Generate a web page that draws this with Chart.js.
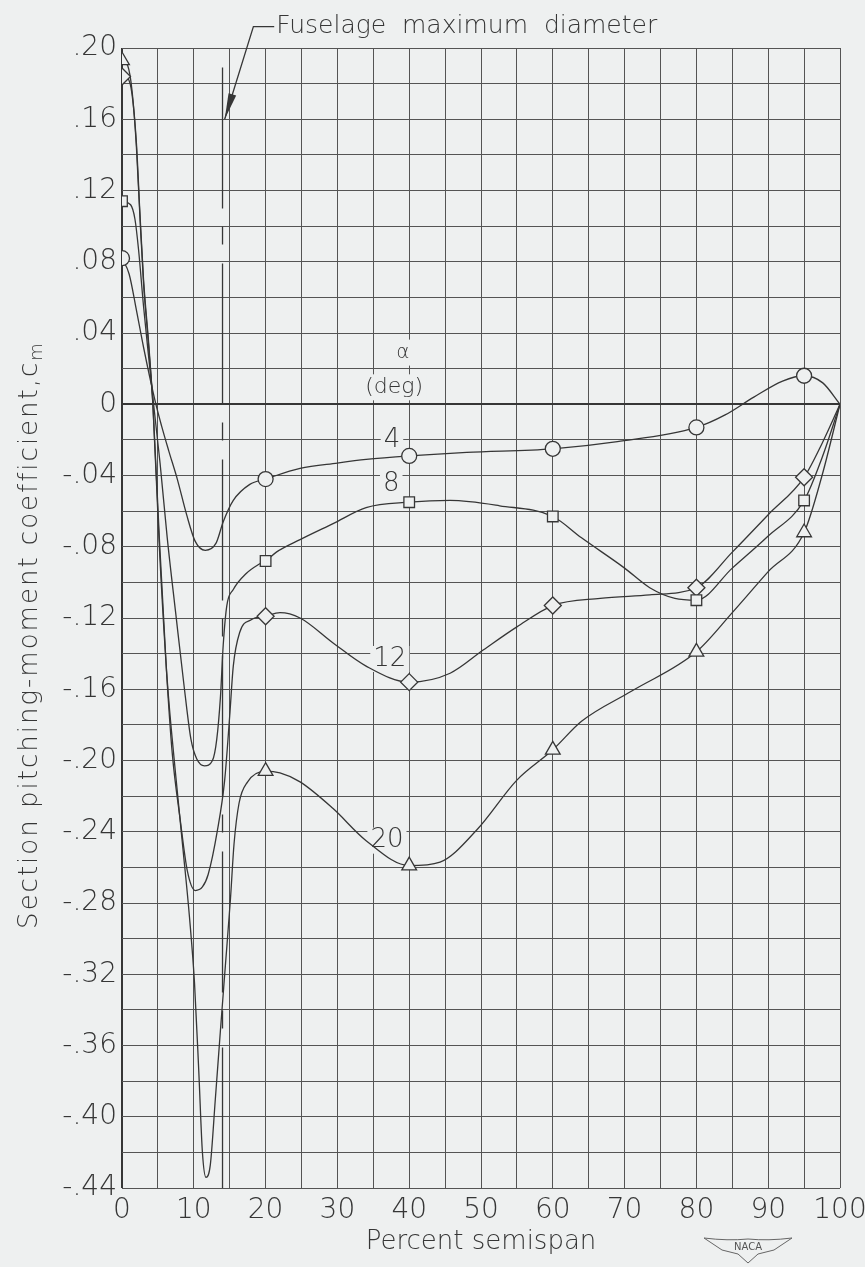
<!DOCTYPE html>
<html>
<head>
<meta charset="utf-8">
<script src="https://cdn.jsdelivr.net/npm/chart.js@4.4.1/dist/chart.umd.min.js"></script>
<style>
  html, body { margin: 0; padding: 0; background: #eef0f0; }
</style>
</head>
<body>
<canvas id="cm" width="865" height="1267"></canvas>
<script>
// Spanwise stations where the section moments were measured (percent semispan)
const stations = [0, 20, 40, 60, 80, 95];

// Section pitching-moment coefficient at each station, one array per angle of attack
const cmAlpha4  = [0.082, -0.042, -0.029, -0.025, -0.013, 0.016];
const cmAlpha8  = [0.114, -0.088, -0.055, -0.063, -0.110, -0.054];
const cmAlpha12 = [0.184, -0.119, -0.156, -0.113, -0.103, -0.041];
const cmAlpha20 = [0.193, -0.206, -0.259, -0.194, -0.139, -0.072];

// Faired curves through the stations, [percent semispan, cm]
const curveAlpha4 = [
  [0, 0.082], [1, 0.073], [2, 0.053], [3, 0.032], [4.6, 0.002], [5.5, -0.012],
  [6.5, -0.026], [7.7, -0.042], [9, -0.062], [10.2, -0.077], [11.6, -0.082],
  [13.1, -0.078], [14.1, -0.066], [15.5, -0.054], [17.8, -0.045], [20, -0.042],
  [24.8, -0.036], [30, -0.033], [34, -0.031], [40, -0.029], [48, -0.027],
  [60, -0.025], [69, -0.021], [80, -0.013], [84, -0.006], [88, 0.004],
  [92, 0.013], [95, 0.016], [97.6, 0.012], [100, 0]
];
const curveAlpha8 = [
  [0, 0.114], [1.2, 0.112], [1.8, 0.104], [2.3, 0.087], [3, 0.055], [3.7, 0.027],
  [4.4, 0], [5.3, -0.033], [6.3, -0.075], [7.5, -0.118], [8.7, -0.16],
  [9.6, -0.188], [10.4, -0.199], [11.5, -0.203], [12.6, -0.2], [13.2, -0.188],
  [13.7, -0.165], [14.1, -0.135], [14.6, -0.113], [15.5, -0.104], [17.3, -0.095],
  [19, -0.09], [20, -0.088], [21.5, -0.083], [24.8, -0.076], [29.4, -0.067],
  [34, -0.058], [40, -0.055], [45.7, -0.054], [52.6, -0.057], [60, -0.063],
  [64, -0.075], [70, -0.092], [73.5, -0.103], [77, -0.109], [80, -0.11],
  [85, -0.092], [90, -0.074], [95, -0.054], [97.5, -0.03], [100, 0]
];
const curveAlpha12 = [
  [0, 0.184], [0.8, 0.183], [1.4, 0.174], [2, 0.147], [2.5, 0.107], [3, 0.07],
  [3.7, 0.035], [4.3, 0], [5.2, -0.075], [6.2, -0.15], [7, -0.196], [8.1, -0.233],
  [9.1, -0.262], [10.2, -0.273], [11.2, -0.271], [12, -0.264], [13.3, -0.239],
  [14.3, -0.211], [15, -0.175], [15.5, -0.147], [16.4, -0.128], [18, -0.121],
  [20, -0.119], [22, -0.117], [24.8, -0.12], [29.4, -0.134], [34, -0.147],
  [40, -0.156], [45.7, -0.151], [50.3, -0.138], [55, -0.125], [60, -0.113],
  [66.6, -0.109], [73.5, -0.107], [80, -0.103], [85, -0.083], [90, -0.062],
  [95, -0.041], [97.5, -0.022], [100, 0]
];
const curveAlpha20 = [
  [0, 0.193], [0.8, 0.19], [1.4, 0.176], [2, 0.145], [2.5, 0.105], [3, 0.068],
  [3.7, 0.033], [4.3, 0], [5.2, -0.08], [6.3, -0.155], [7.4, -0.205], [8.5, -0.25],
  [9.4, -0.288], [10.1, -0.325], [10.7, -0.375], [11.2, -0.42], [11.7, -0.434],
  [12.3, -0.427], [13, -0.39], [13.7, -0.352], [14.4, -0.315], [15.1, -0.278],
  [15.6, -0.247], [16.3, -0.224], [17.5, -0.212], [20, -0.206], [22, -0.207],
  [24.8, -0.212], [29.4, -0.227], [34, -0.245], [40, -0.259], [44.3, -0.257],
  [49.4, -0.239], [55, -0.211], [60, -0.194], [64, -0.178], [71, -0.161],
  [80, -0.139], [85, -0.117], [90, -0.094], [95, -0.072], [97.5, -0.04], [100, 0]
];

// Fuselage maximum diameter station (percent semispan)
const fuselageStation = 14;

// Curve labels (angle of attack, deg) and where they sit in data units
const alphaLabels = ['4', '8', '12', '20'];
const alphaLabelX = [37.6, 37.5, 37.3, 36.9];
const alphaLabelY = [-0.020, -0.045, -0.143, -0.245];

// Axis tick labels
const xTickValues = [0, 10, 20, 30, 40, 50, 60, 70, 80, 90, 100];
const yTickValues = [0.20, 0.16, 0.12, 0.08, 0.04, 0, -0.04, -0.08, -0.12, -0.16,
                     -0.20, -0.24, -0.28, -0.32, -0.36, -0.40, -0.44];
const yTickText = ['.20', '.16', '.12', '.08', '.04', '0', '-.04', '-.08', '-.12', '-.16',
                   '-.20', '-.24', '-.28', '-.32', '-.36', '-.40', '-.44'];

const paper = '#eef0f0';
const ink = '#363636';
const gridInk = '#545454';
const family = '"DejaVu Sans", "Liberation Sans", sans-serif';

const pairs = arr => arr.map(([x, y]) => ({ x, y }));
const atStations = vals => stations.map((x, i) => ({ x, y: vals[i] }));

const curve = data => ({
  data: pairs(data),
  borderColor: ink,
  borderWidth: 1.3,
  pointRadius: 0,
  cubicInterpolationMode: 'monotone',
  order: 2
});
const markers = (vals, style, r) => ({
  data: atStations(vals),
  showLine: false,
  pointStyle: style,
  pointRadius: r,
  pointBackgroundColor: paper,
  pointBorderColor: ink,
  pointBorderWidth: 1.3,
  order: 0
});

const paperFill = {
  id: 'paperFill',
  beforeDraw(chart) {
    const { ctx, width, height } = chart;
    ctx.save();
    ctx.fillStyle = paper;
    ctx.fillRect(0, 0, width, height);
    ctx.restore();
  }
};

// text drawn over the grid with a small patch of paper behind it
function label(ctx, text, px, py, font) {
  ctx.font = font;
  const w = ctx.measureText(text).width;
  ctx.fillStyle = paper;
  ctx.fillRect(px - w / 2 - 3, py - 13, w + 6, 26);
  ctx.fillStyle = ink;
  ctx.fillText(text, px, py);
}

const curveLabels = {
  id: 'curveLabels',
  beforeDatasetsDraw(chart) {
    const { ctx, scales: { x, y } } = chart;
    ctx.save();
    ctx.textAlign = 'center';
    ctx.textBaseline = 'middle';
    alphaLabels.forEach((t, i) => {
      label(ctx, t, x.getPixelForValue(alphaLabelX[i]), y.getPixelForValue(alphaLabelY[i]), `200 26px ${family}`);
    });
    label(ctx, '(deg)', x.getPixelForValue(37.9), y.getPixelForValue(0.0095), `200 22px ${family}`);
    label(ctx, 'α', x.getPixelForValue(39.1), y.getPixelForValue(0.029), `200 20px ${family}`);
    ctx.restore();
  }
};

const annotations = {
  id: 'annotations',
  afterDatasetsDraw(chart) {
    const { ctx, scales: { x, y } } = chart;
    ctx.save();

    // fuselage leader and arrow
    const tipX = x.getPixelForValue(fuselageStation + 0.3);
    const tipY = y.getPixelForValue(0.16);
    const kneeX = x.getPixelForValue(18.3);
    const kneeY = y.getPixelForValue(0.212);
    const textX = x.getPixelForValue(21.2);
    ctx.strokeStyle = ink;
    ctx.lineWidth = 1.3;
    ctx.beginPath();
    ctx.moveTo(textX, kneeY);
    ctx.lineTo(kneeX, kneeY);
    ctx.lineTo(tipX, tipY);
    ctx.stroke();
    const ang = Math.atan2(tipY - kneeY, tipX - kneeX);
    ctx.fillStyle = ink;
    ctx.beginPath();
    ctx.moveTo(tipX, tipY);
    ctx.lineTo(tipX - 26 * Math.cos(ang) + 4 * Math.sin(ang), tipY - 26 * Math.sin(ang) - 4 * Math.cos(ang));
    ctx.lineTo(tipX - 26 * Math.cos(ang) - 4 * Math.sin(ang), tipY - 26 * Math.sin(ang) + 4 * Math.cos(ang));
    ctx.closePath();
    ctx.fill();

    ctx.textAlign = 'left';
    ctx.textBaseline = 'middle';
    ctx.font = `200 25px ${family}`;
    ctx.fillText('Fuselage  maximum  diameter', textX + 2, kneeY);

    // y axis title with subscript
    const main = 'Section pitching-moment coefficient,c';
    ctx.letterSpacing = '2px';
    ctx.font = `200 26px ${family}`;
    const wMain = ctx.measureText(main).width;
    ctx.font = `200 18px ${family}`;
    const wSub = ctx.measureText('m').width;
    ctx.translate(30, 635);
    ctx.rotate(-Math.PI / 2);
    const start = -(wMain + wSub) / 2;
    ctx.font = `200 26px ${family}`;
    ctx.fillText(main, start, 0);
    ctx.font = `200 18px ${family}`;
    ctx.fillText('m', start + wMain, 7);
    ctx.restore();

    // NACA mark
    ctx.save();
    const cx = 748, cy = 1248;
    ctx.strokeStyle = '#666';
    ctx.lineWidth = 1;
    ctx.beginPath();
    ctx.moveTo(cx - 44, cy - 10);
    ctx.quadraticCurveTo(cx - 20, cy - 7, cx, cy - 9);
    ctx.quadraticCurveTo(cx + 20, cy - 7, cx + 44, cy - 10);
    ctx.lineTo(cx + 26, cy + 2);
    ctx.lineTo(cx + 10, cy + 6);
    ctx.lineTo(cx, cy + 15);
    ctx.lineTo(cx - 10, cy + 6);
    ctx.lineTo(cx - 26, cy + 2);
    ctx.closePath();
    ctx.stroke();
    ctx.fillStyle = '#555';
    ctx.font = `10px ${family}`;
    ctx.textAlign = 'center';
    ctx.textBaseline = 'middle';
    ctx.fillText('NACA', cx, cy - 1);
    ctx.restore();
  }
};

new Chart(document.getElementById('cm'), {
  type: 'line',
  data: {
    datasets: [
      curve(curveAlpha4),
      curve(curveAlpha8),
      curve(curveAlpha12),
      curve(curveAlpha20),
      markers(cmAlpha4, 'circle', 7.5),
      markers(cmAlpha8, 'rect', 7.5),
      markers(cmAlpha12, 'rectRot', 8.5),
      markers(cmAlpha20, 'triangle', 8.5),
      {
        data: [{ x: fuselageStation, y: 0.189 }, { x: fuselageStation, y: -0.44 }],
        borderColor: ink,
        borderWidth: 1.3,
        borderDash: [141, 18, 18, 19],
        pointRadius: 0,
        tension: 0,
        order: 3
      }
    ]
  },
  options: {
    responsive: false,
    animation: false,
    devicePixelRatio: 1,
    layout: { padding: { left: 0, top: 48, right: 25, bottom: 0 } },
    plugins: { legend: { display: false }, tooltip: { enabled: false } },
    scales: {
      x: {
        type: 'linear',
        min: 0,
        max: 100,
        afterFit: s => {
          s.height = 79;
          s.paddingLeft = 0;
          s.paddingRight = 0;
        },
        afterBuildTicks: s => {
          const t = [];
          for (let v = 0; v <= 100; v += 5) t.push({ value: v });
          s.ticks = t;
        },
        ticks: {
          autoSkip: false,
          maxRotation: 0,
          minRotation: 0,
          padding: 6,
          color: ink,
          font: { family, size: 28, weight: 200 },
          callback: v => (xTickValues.includes(v) ? String(v) : '')
        },
        grid: {
          drawTicks: false,
          color: ctx => (ctx.tick && ctx.tick.value === 0 ? ink : gridInk),
          lineWidth: ctx => (ctx.tick && ctx.tick.value === 0 ? 2 : 1)
        },
        border: { display: false },
        title: {
          display: true,
          text: 'Percent semispan',
          color: ink,
          font: { family, size: 26, weight: 200 },
          padding: { top: 0, bottom: 9 }
        }
      },
      y: {
        type: 'linear',
        min: -0.44,
        max: 0.2,
        afterFit: s => {
          s.width = 122;
          s.paddingTop = 0;
          s.paddingBottom = 0;
        },
        afterBuildTicks: s => {
          const t = [];
          for (let k = -22; k <= 10; k++) t.push({ value: k * 0.02 });
          s.ticks = t;
        },
        ticks: {
          autoSkip: false,
          padding: 5,
          color: ink,
          font: { family, size: 28, weight: 200 },
          callback: v => {
            const i = yTickValues.findIndex(t => Math.abs(t - v) < 1e-6);
            return i >= 0 ? yTickText[i] : '';
          }
        },
        grid: {
          drawTicks: false,
          color: ctx => (ctx.tick && Math.abs(ctx.tick.value) < 1e-6 ? ink : gridInk),
          lineWidth: ctx => (ctx.tick && Math.abs(ctx.tick.value) < 1e-6 ? 2 : 1)
        },
        border: { display: false }
      }
    }
  },
  plugins: [paperFill, curveLabels, annotations]
});
</script>
</body>
</html>
